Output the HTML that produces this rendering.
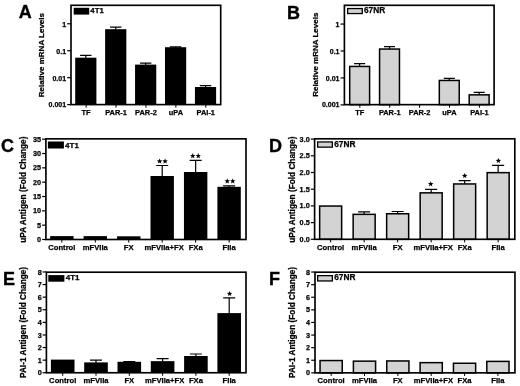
<!DOCTYPE html>
<html><head><meta charset="utf-8"><title>Figure</title>
<style>
html,body{margin:0;padding:0;background:#fff;}
body{width:520px;height:386px;overflow:hidden;}
svg{display:block;filter:blur(0.35px);}
svg text{font-family:"Liberation Sans",sans-serif;font-weight:bold;fill:#000;stroke:#000;stroke-width:0.25px;stroke-linejoin:round;}
svg text.let{stroke-width:0.35px;}
</style></head><body>
<svg width="520" height="386" viewBox="0 0 520 386">
<rect width="520" height="386" fill="#fff"/>
<g>
<text class="let" x="18.7" y="18.1" font-size="18" text-anchor="start">A</text>
<path d="M85.80 58.7V55.4M80.10 55.4H91.50" stroke="#000" stroke-width="1.2" fill="none"/>
<rect x="75.20" y="57.7" width="21.2" height="46.90" fill="#000"/>
<path d="M115.73 30.2V27.2M110.03 27.2H121.43" stroke="#000" stroke-width="1.2" fill="none"/>
<rect x="105.13" y="29.2" width="21.2" height="75.40" fill="#000"/>
<path d="M145.66 65.6V63.2M139.96 63.2H151.36" stroke="#000" stroke-width="1.2" fill="none"/>
<rect x="135.06" y="64.6" width="21.2" height="40.00" fill="#000"/>
<path d="M175.59 48.2V46.8M169.89 46.8H181.29" stroke="#000" stroke-width="1.2" fill="none"/>
<rect x="164.99" y="47.2" width="21.2" height="57.40" fill="#000"/>
<path d="M205.52 88V85.6M199.82 85.6H211.22" stroke="#000" stroke-width="1.2" fill="none"/>
<rect x="194.92" y="87" width="21.2" height="17.60" fill="#000"/>
<rect x="71.0" y="5.3" width="149.70" height="99.30" fill="none" stroke="#000" stroke-width="1.65"/>
<path d="M67.20 23.75H71.0" stroke="#000" stroke-width="1.2"/>
<text x="66.10" y="26.60" font-size="7.02" text-anchor="end" >1</text>
<path d="M67.20 50.70H71.0" stroke="#000" stroke-width="1.2"/>
<text x="66.10" y="53.55" font-size="7.02" text-anchor="end" >0.1</text>
<path d="M67.20 77.65H71.0" stroke="#000" stroke-width="1.2"/>
<text x="66.10" y="80.50" font-size="7.02" text-anchor="end" >0.01</text>
<path d="M67.20 104.60H71.0" stroke="#000" stroke-width="1.2"/>
<text x="66.10" y="107.45" font-size="7.02" text-anchor="end" >0.001</text>
<text transform="translate(43.7,55.1) rotate(-90)" font-size="8.01" text-anchor="middle">Relative mRNA Levels</text>
<rect x="73.7" y="7.8" width="15.50" height="6.80" fill="#000"/>
<text x="90.30" y="13.20" font-size="7.80" text-anchor="start" >4T1</text>
<text x="86.10" y="114.60" font-size="7.41" text-anchor="middle" >TF</text>
<path d="M86.10 104.6V107.70" stroke="#000" stroke-width="1.0"/>
<text x="116.03" y="114.60" font-size="7.41" text-anchor="middle" >PAR-1</text>
<path d="M116.03 104.6V107.70" stroke="#000" stroke-width="1.0"/>
<text x="145.96" y="114.60" font-size="7.41" text-anchor="middle" >PAR-2</text>
<path d="M145.96 104.6V107.70" stroke="#000" stroke-width="1.0"/>
<text x="175.89" y="114.60" font-size="7.41" text-anchor="middle" >uPA</text>
<path d="M175.89 104.6V107.70" stroke="#000" stroke-width="1.0"/>
<text x="205.82" y="114.60" font-size="7.41" text-anchor="middle" >PAI-1</text>
<path d="M205.82 104.6V107.70" stroke="#000" stroke-width="1.0"/>
</g>
<g>
<text class="let" x="287.1" y="18.6" font-size="18" text-anchor="start">B</text>
<path d="M359.65 66.7V63.7M354.15 63.7H365.15" stroke="#000" stroke-width="1.2" fill="none"/>
<rect x="349.70" y="66.45" width="19.90" height="38.20" fill="#d3d3d3" stroke="#000" stroke-width="1.5"/>
<path d="M389.52 49.3V46.6M384.02 46.6H395.02" stroke="#000" stroke-width="1.2" fill="none"/>
<rect x="379.57" y="49.05" width="19.90" height="55.60" fill="#d3d3d3" stroke="#000" stroke-width="1.5"/>
<path d="M449.27 80.7V78.3M443.77 78.3H454.77" stroke="#000" stroke-width="1.2" fill="none"/>
<rect x="439.32" y="80.45" width="19.90" height="24.20" fill="#d3d3d3" stroke="#000" stroke-width="1.5"/>
<path d="M479.15 95.1V92.4M473.65 92.4H484.65" stroke="#000" stroke-width="1.2" fill="none"/>
<rect x="469.20" y="94.85" width="19.90" height="9.80" fill="#d3d3d3" stroke="#000" stroke-width="1.5"/>
<rect x="344.4" y="5.3" width="149.70" height="99.35" fill="none" stroke="#000" stroke-width="1.65"/>
<path d="M340.60 24.05H344.4" stroke="#000" stroke-width="1.2"/>
<text x="339.50" y="26.60" font-size="7.02" text-anchor="end" >1</text>
<path d="M340.60 51.00H344.4" stroke="#000" stroke-width="1.2"/>
<text x="339.50" y="53.55" font-size="7.02" text-anchor="end" >0.1</text>
<path d="M340.60 77.95H344.4" stroke="#000" stroke-width="1.2"/>
<text x="339.50" y="80.50" font-size="7.02" text-anchor="end" >0.01</text>
<path d="M340.60 104.90H344.4" stroke="#000" stroke-width="1.2"/>
<text x="339.50" y="107.45" font-size="7.02" text-anchor="end" >0.001</text>
<text transform="translate(318.0,54.75) rotate(-90)" font-size="8.01" text-anchor="middle">Relative mRNA Levels</text>
<rect x="347.65" y="8.55" width="14.60" height="5.00" fill="#d3d3d3" stroke="#000" stroke-width="1.3"/>
<text x="364.00" y="12.60" font-size="8.25" text-anchor="start" >67NR</text>
<text x="359.85" y="114.70" font-size="7.41" text-anchor="middle" >TF</text>
<path d="M359.85 104.65V107.75" stroke="#000" stroke-width="1.0"/>
<text x="389.72" y="114.70" font-size="7.41" text-anchor="middle" >PAR-1</text>
<path d="M389.72 104.65V107.75" stroke="#000" stroke-width="1.0"/>
<text x="419.60" y="114.70" font-size="7.41" text-anchor="middle" >PAR-2</text>
<path d="M419.60 104.65V107.75" stroke="#000" stroke-width="1.0"/>
<text x="449.47" y="114.70" font-size="7.41" text-anchor="middle" >uPA</text>
<path d="M449.47 104.65V107.75" stroke="#000" stroke-width="1.0"/>
<text x="479.35" y="114.70" font-size="7.41" text-anchor="middle" >PAI-1</text>
<path d="M479.35 104.65V107.75" stroke="#000" stroke-width="1.0"/>
</g>
<g>
<text class="let" x="1.0" y="152.3" font-size="18" text-anchor="start">C</text>
<rect x="50.15" y="236.1" width="23.4" height="3.40" fill="#000"/>
<rect x="83.60" y="236.1" width="23.4" height="3.40" fill="#000"/>
<rect x="117.05" y="236.3" width="23.4" height="3.20" fill="#000"/>
<path d="M162.20 177.0V165.5M156.20 165.5H168.20" stroke="#000" stroke-width="1.2" fill="none"/>
<rect x="150.50" y="176.0" width="23.4" height="63.50" fill="#000"/>
<path d="M195.65 173.0V160.4M189.65 160.4H201.65" stroke="#000" stroke-width="1.2" fill="none"/>
<rect x="183.95" y="172.0" width="23.4" height="67.50" fill="#000"/>
<path d="M229.10 187.8V185.9M223.10 185.9H235.10" stroke="#000" stroke-width="1.2" fill="none"/>
<rect x="217.40" y="186.8" width="23.4" height="52.70" fill="#000"/>
<polygon points="159.60,158.45 160.33,160.29 162.31,160.42 160.79,161.69 161.28,163.61 159.60,162.55 157.92,163.61 158.41,161.69 156.89,160.42 158.87,160.29" fill="#000"/>
<polygon points="165.10,158.45 165.83,160.29 167.81,160.42 166.29,161.69 166.78,163.61 165.10,162.55 163.42,163.61 163.91,161.69 162.39,160.42 164.37,160.29" fill="#000"/>
<polygon points="192.75,153.05 193.48,154.89 195.46,155.02 193.94,156.29 194.43,158.21 192.75,157.15 191.07,158.21 191.56,156.29 190.04,155.02 192.02,154.89" fill="#000"/>
<polygon points="198.25,153.05 198.98,154.89 200.96,155.02 199.44,156.29 199.93,158.21 198.25,157.15 196.57,158.21 197.06,156.29 195.54,155.02 197.52,154.89" fill="#000"/>
<polygon points="227.25,178.35 227.98,180.19 229.96,180.32 228.44,181.59 228.93,183.51 227.25,182.45 225.57,183.51 226.06,181.59 224.54,180.32 226.52,180.19" fill="#000"/>
<polygon points="232.75,178.35 233.48,180.19 235.46,180.32 233.94,181.59 234.43,183.51 232.75,182.45 231.07,183.51 231.56,181.59 230.04,180.32 232.02,180.19" fill="#000"/>
<rect x="45.9" y="138.85" width="200.10" height="100.65" fill="none" stroke="#000" stroke-width="1.65"/>
<path d="M42.10 239.50H45.9" stroke="#000" stroke-width="1.2"/>
<text x="41.00" y="242.05" font-size="7.25" text-anchor="end" >0</text>
<path d="M42.10 225.17H45.9" stroke="#000" stroke-width="1.2"/>
<text x="41.00" y="227.72" font-size="7.25" text-anchor="end" >5</text>
<path d="M42.10 210.84H45.9" stroke="#000" stroke-width="1.2"/>
<text x="41.00" y="213.39" font-size="7.25" text-anchor="end" >10</text>
<path d="M42.10 196.51H45.9" stroke="#000" stroke-width="1.2"/>
<text x="41.00" y="199.06" font-size="7.25" text-anchor="end" >15</text>
<path d="M42.10 182.18H45.9" stroke="#000" stroke-width="1.2"/>
<text x="41.00" y="184.73" font-size="7.25" text-anchor="end" >20</text>
<path d="M42.10 167.85H45.9" stroke="#000" stroke-width="1.2"/>
<text x="41.00" y="170.40" font-size="7.25" text-anchor="end" >25</text>
<path d="M42.10 153.52H45.9" stroke="#000" stroke-width="1.2"/>
<text x="41.00" y="156.07" font-size="7.25" text-anchor="end" >30</text>
<path d="M42.10 139.19H45.9" stroke="#000" stroke-width="1.2"/>
<text x="41.00" y="141.74" font-size="7.25" text-anchor="end" >35</text>
<text transform="translate(25.7,189.65) rotate(-90)" font-size="8.27" text-anchor="middle">uPA Antigen (Fold Change)</text>
<rect x="47.9" y="141.5" width="16.00" height="7.00" fill="#000"/>
<text x="65.00" y="147.60" font-size="8.05" text-anchor="start" >4T1</text>
<text x="61.85" y="249.90" font-size="7.65" text-anchor="middle" >Control</text>
<path d="M61.85 239.5V242.60" stroke="#000" stroke-width="1.0"/>
<text x="95.30" y="249.90" font-size="7.65" text-anchor="middle" >mFVIIa</text>
<path d="M95.30 239.5V242.60" stroke="#000" stroke-width="1.0"/>
<text x="128.75" y="249.90" font-size="7.65" text-anchor="middle" >FX</text>
<path d="M128.75 239.5V242.60" stroke="#000" stroke-width="1.0"/>
<text x="164.20" y="249.90" font-size="7.65" text-anchor="middle" >mFVIIa+FX</text>
<path d="M162.20 239.5V242.60" stroke="#000" stroke-width="1.0"/>
<text x="195.65" y="249.90" font-size="7.65" text-anchor="middle" >FXa</text>
<path d="M195.65 239.5V242.60" stroke="#000" stroke-width="1.0"/>
<text x="229.10" y="249.90" font-size="7.65" text-anchor="middle" >FIIa</text>
<path d="M229.10 239.5V242.60" stroke="#000" stroke-width="1.0"/>
</g>
<g>
<text class="let" x="269.0" y="152.4" font-size="18" text-anchor="start">D</text>
<rect x="319.65" y="206.05" width="22.00" height="33.25" fill="#d3d3d3" stroke="#000" stroke-width="1.5"/>
<path d="M364.15 214.6V211.9M358.15 211.9H370.15" stroke="#000" stroke-width="1.2" fill="none"/>
<rect x="353.15" y="214.35" width="22.00" height="24.95" fill="#d3d3d3" stroke="#000" stroke-width="1.5"/>
<path d="M397.65 214.0V211.5M391.65 211.5H403.65" stroke="#000" stroke-width="1.2" fill="none"/>
<rect x="386.65" y="213.75" width="22.00" height="25.55" fill="#d3d3d3" stroke="#000" stroke-width="1.5"/>
<path d="M431.15 193.1V189.4M425.15 189.4H437.15" stroke="#000" stroke-width="1.2" fill="none"/>
<rect x="420.15" y="192.85" width="22.00" height="46.45" fill="#d3d3d3" stroke="#000" stroke-width="1.5"/>
<path d="M464.65 184.2V180.6M458.65 180.6H470.65" stroke="#000" stroke-width="1.2" fill="none"/>
<rect x="453.65" y="183.95" width="22.00" height="55.35" fill="#d3d3d3" stroke="#000" stroke-width="1.5"/>
<path d="M498.15 172.9V165.4M492.15 165.4H504.15" stroke="#000" stroke-width="1.2" fill="none"/>
<rect x="487.15" y="172.65" width="22.00" height="66.65" fill="#d3d3d3" stroke="#000" stroke-width="1.5"/>
<polygon points="430.70,181.25 431.43,183.09 433.41,183.22 431.89,184.49 432.38,186.41 430.70,185.35 429.02,186.41 429.51,184.49 427.99,183.22 429.97,183.09" fill="#000"/>
<polygon points="464.70,172.95 465.43,174.79 467.41,174.92 465.89,176.19 466.38,178.11 464.70,177.05 463.02,178.11 463.51,176.19 461.99,174.92 463.97,174.79" fill="#000"/>
<polygon points="498.40,157.95 499.13,159.79 501.11,159.92 499.59,161.19 500.08,163.11 498.40,162.05 496.72,163.11 497.21,161.19 495.69,159.92 497.67,159.79" fill="#000"/>
<rect x="314.6" y="138.8" width="200.20" height="100.50" fill="none" stroke="#000" stroke-width="1.65"/>
<path d="M310.80 239.30H314.6" stroke="#000" stroke-width="1.2"/>
<text x="309.70" y="241.85" font-size="7.25" text-anchor="end" >0.0</text>
<path d="M310.80 222.60H314.6" stroke="#000" stroke-width="1.2"/>
<text x="309.70" y="225.15" font-size="7.25" text-anchor="end" >0.5</text>
<path d="M310.80 205.90H314.6" stroke="#000" stroke-width="1.2"/>
<text x="309.70" y="208.45" font-size="7.25" text-anchor="end" >1.0</text>
<path d="M310.80 189.20H314.6" stroke="#000" stroke-width="1.2"/>
<text x="309.70" y="191.75" font-size="7.25" text-anchor="end" >1.5</text>
<path d="M310.80 172.50H314.6" stroke="#000" stroke-width="1.2"/>
<text x="309.70" y="175.05" font-size="7.25" text-anchor="end" >2.0</text>
<path d="M310.80 155.80H314.6" stroke="#000" stroke-width="1.2"/>
<text x="309.70" y="158.35" font-size="7.25" text-anchor="end" >2.5</text>
<path d="M310.80 139.10H314.6" stroke="#000" stroke-width="1.2"/>
<text x="309.70" y="141.65" font-size="7.25" text-anchor="end" >3.0</text>
<text transform="translate(294.5,189.65) rotate(-90)" font-size="8.27" text-anchor="middle">uPA Antigen (Fold Change)</text>
<rect x="317.65" y="141.95" width="14.70" height="5.20" fill="#d3d3d3" stroke="#000" stroke-width="1.3"/>
<text x="334.20" y="147.20" font-size="8.30" text-anchor="start" >67NR</text>
<text x="330.65" y="249.70" font-size="7.65" text-anchor="middle" >Control</text>
<path d="M330.65 239.3V242.40" stroke="#000" stroke-width="1.0"/>
<text x="364.15" y="249.70" font-size="7.65" text-anchor="middle" >mFVIIa</text>
<path d="M364.15 239.3V242.40" stroke="#000" stroke-width="1.0"/>
<text x="397.65" y="249.70" font-size="7.65" text-anchor="middle" >FX</text>
<path d="M397.65 239.3V242.40" stroke="#000" stroke-width="1.0"/>
<text x="433.15" y="249.70" font-size="7.65" text-anchor="middle" >mFVIIa+FX</text>
<path d="M431.15 239.3V242.40" stroke="#000" stroke-width="1.0"/>
<text x="464.65" y="249.70" font-size="7.65" text-anchor="middle" >FXa</text>
<path d="M464.65 239.3V242.40" stroke="#000" stroke-width="1.0"/>
<text x="498.15" y="249.70" font-size="7.65" text-anchor="middle" >FIIa</text>
<path d="M498.15 239.3V242.40" stroke="#000" stroke-width="1.0"/>
</g>
<g>
<text class="let" x="3.0" y="284.7" font-size="18" text-anchor="start">E</text>
<rect x="50.90" y="359.6" width="23.6" height="13.15" fill="#000"/>
<path d="M96.00 363.4V360.1M90.00 360.1H102.00" stroke="#000" stroke-width="1.2" fill="none"/>
<rect x="84.20" y="362.4" width="23.6" height="10.35" fill="#000"/>
<path d="M129.30 362.8V361.5M123.30 361.5H135.30" stroke="#000" stroke-width="1.2" fill="none"/>
<rect x="117.50" y="361.8" width="23.6" height="10.95" fill="#000"/>
<path d="M162.60 362.15V358.7M156.60 358.7H168.60" stroke="#000" stroke-width="1.2" fill="none"/>
<rect x="150.80" y="361.15" width="23.6" height="11.60" fill="#000"/>
<path d="M195.90 357.0V354.0M189.90 354.0H201.90" stroke="#000" stroke-width="1.2" fill="none"/>
<rect x="184.10" y="356.0" width="23.6" height="16.75" fill="#000"/>
<path d="M229.20 314.1V297.9M223.20 297.9H235.20" stroke="#000" stroke-width="1.2" fill="none"/>
<rect x="217.40" y="313.1" width="23.6" height="59.65" fill="#000"/>
<polygon points="229.60,290.95 230.33,292.79 232.31,292.92 230.79,294.19 231.28,296.11 229.60,295.05 227.92,296.11 228.41,294.19 226.89,292.92 228.87,292.79" fill="#000"/>
<rect x="46.4" y="272.2" width="199.60" height="100.55" fill="none" stroke="#000" stroke-width="1.65"/>
<path d="M42.60 372.75H46.4" stroke="#000" stroke-width="1.2"/>
<text x="41.90" y="375.30" font-size="7.25" text-anchor="end" >0</text>
<path d="M42.60 360.15H46.4" stroke="#000" stroke-width="1.2"/>
<text x="41.90" y="362.70" font-size="7.25" text-anchor="end" >1</text>
<path d="M42.60 347.55H46.4" stroke="#000" stroke-width="1.2"/>
<text x="41.90" y="350.10" font-size="7.25" text-anchor="end" >2</text>
<path d="M42.60 334.95H46.4" stroke="#000" stroke-width="1.2"/>
<text x="41.90" y="337.50" font-size="7.25" text-anchor="end" >3</text>
<path d="M42.60 322.35H46.4" stroke="#000" stroke-width="1.2"/>
<text x="41.90" y="324.90" font-size="7.25" text-anchor="end" >4</text>
<path d="M42.60 309.75H46.4" stroke="#000" stroke-width="1.2"/>
<text x="41.90" y="312.30" font-size="7.25" text-anchor="end" >5</text>
<path d="M42.60 297.15H46.4" stroke="#000" stroke-width="1.2"/>
<text x="41.90" y="299.70" font-size="7.25" text-anchor="end" >6</text>
<path d="M42.60 284.55H46.4" stroke="#000" stroke-width="1.2"/>
<text x="41.90" y="287.10" font-size="7.25" text-anchor="end" >7</text>
<path d="M42.60 271.95H46.4" stroke="#000" stroke-width="1.2"/>
<text x="41.90" y="274.50" font-size="7.25" text-anchor="end" >8</text>
<text transform="translate(26.4,322.45) rotate(-90)" font-size="8.27" text-anchor="middle">PAI-1 Antigen (Fold Change)</text>
<rect x="48.3" y="275.1" width="16.10" height="6.60" fill="#000"/>
<text x="65.70" y="280.40" font-size="8.05" text-anchor="start" >4T1</text>
<text x="62.70" y="382.70" font-size="7.65" text-anchor="middle" >Control</text>
<path d="M62.70 372.75V375.85" stroke="#000" stroke-width="1.0"/>
<text x="96.00" y="382.70" font-size="7.65" text-anchor="middle" >mFVIIa</text>
<path d="M96.00 372.75V375.85" stroke="#000" stroke-width="1.0"/>
<text x="129.30" y="382.70" font-size="7.65" text-anchor="middle" >FX</text>
<path d="M129.30 372.75V375.85" stroke="#000" stroke-width="1.0"/>
<text x="164.60" y="382.70" font-size="7.65" text-anchor="middle" >mFVIIa+FX</text>
<path d="M162.60 372.75V375.85" stroke="#000" stroke-width="1.0"/>
<text x="195.90" y="382.70" font-size="7.65" text-anchor="middle" >FXa</text>
<path d="M195.90 372.75V375.85" stroke="#000" stroke-width="1.0"/>
<text x="229.20" y="382.70" font-size="7.65" text-anchor="middle" >FIIa</text>
<path d="M229.20 372.75V375.85" stroke="#000" stroke-width="1.0"/>
</g>
<g>
<text class="let" x="269.1" y="285.2" font-size="18" text-anchor="start">F</text>
<rect x="320.05" y="360.55" width="22.20" height="12.30" fill="#d3d3d3" stroke="#000" stroke-width="1.5"/>
<rect x="353.40" y="361.15" width="22.20" height="11.70" fill="#d3d3d3" stroke="#000" stroke-width="1.5"/>
<rect x="386.75" y="360.95" width="22.20" height="11.90" fill="#d3d3d3" stroke="#000" stroke-width="1.5"/>
<rect x="420.10" y="362.65" width="22.20" height="10.20" fill="#d3d3d3" stroke="#000" stroke-width="1.5"/>
<rect x="453.45" y="363.25" width="22.20" height="9.60" fill="#d3d3d3" stroke="#000" stroke-width="1.5"/>
<rect x="486.80" y="361.40" width="22.20" height="11.45" fill="#d3d3d3" stroke="#000" stroke-width="1.5"/>
<rect x="315.0" y="272.2" width="199.95" height="100.65" fill="none" stroke="#000" stroke-width="1.65"/>
<path d="M311.20 372.85H315.0" stroke="#000" stroke-width="1.2"/>
<text x="310.10" y="375.40" font-size="7.25" text-anchor="end" >0</text>
<path d="M311.20 360.25H315.0" stroke="#000" stroke-width="1.2"/>
<text x="310.10" y="362.80" font-size="7.25" text-anchor="end" >1</text>
<path d="M311.20 347.65H315.0" stroke="#000" stroke-width="1.2"/>
<text x="310.10" y="350.20" font-size="7.25" text-anchor="end" >2</text>
<path d="M311.20 335.05H315.0" stroke="#000" stroke-width="1.2"/>
<text x="310.10" y="337.60" font-size="7.25" text-anchor="end" >3</text>
<path d="M311.20 322.45H315.0" stroke="#000" stroke-width="1.2"/>
<text x="310.10" y="325.00" font-size="7.25" text-anchor="end" >4</text>
<path d="M311.20 309.85H315.0" stroke="#000" stroke-width="1.2"/>
<text x="310.10" y="312.40" font-size="7.25" text-anchor="end" >5</text>
<path d="M311.20 297.25H315.0" stroke="#000" stroke-width="1.2"/>
<text x="310.10" y="299.80" font-size="7.25" text-anchor="end" >6</text>
<path d="M311.20 284.65H315.0" stroke="#000" stroke-width="1.2"/>
<text x="310.10" y="287.20" font-size="7.25" text-anchor="end" >7</text>
<path d="M311.20 272.05H315.0" stroke="#000" stroke-width="1.2"/>
<text x="310.10" y="274.60" font-size="7.25" text-anchor="end" >8</text>
<text transform="translate(294.5,322.45) rotate(-90)" font-size="8.27" text-anchor="middle">PAI-1 Antigen (Fold Change)</text>
<rect x="317.65" y="275.65" width="14.70" height="5.30" fill="#d3d3d3" stroke="#000" stroke-width="1.3"/>
<text x="334.20" y="280.40" font-size="8.30" text-anchor="start" >67NR</text>
<text x="331.15" y="382.70" font-size="7.65" text-anchor="middle" >Control</text>
<path d="M331.15 372.85V375.95" stroke="#000" stroke-width="1.0"/>
<text x="364.50" y="382.70" font-size="7.65" text-anchor="middle" >mFVIIa</text>
<path d="M364.50 372.85V375.95" stroke="#000" stroke-width="1.0"/>
<text x="397.85" y="382.70" font-size="7.65" text-anchor="middle" >FX</text>
<path d="M397.85 372.85V375.95" stroke="#000" stroke-width="1.0"/>
<text x="433.40" y="382.70" font-size="7.65" text-anchor="middle" >mFVIIa+FX</text>
<path d="M431.20 372.85V375.95" stroke="#000" stroke-width="1.0"/>
<text x="464.55" y="382.70" font-size="7.65" text-anchor="middle" >FXa</text>
<path d="M464.55 372.85V375.95" stroke="#000" stroke-width="1.0"/>
<text x="497.90" y="382.70" font-size="7.65" text-anchor="middle" >FIIa</text>
<path d="M497.90 372.85V375.95" stroke="#000" stroke-width="1.0"/>
</g>
</svg>
</body></html>
